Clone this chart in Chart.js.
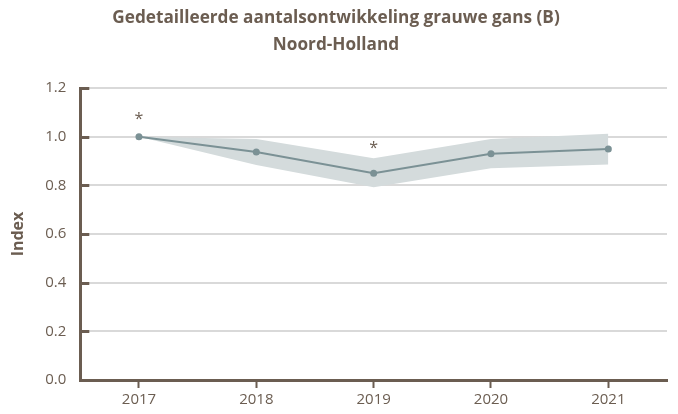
<!DOCTYPE html>
<html>
<head>
  <meta charset="utf-8" />
  <script src="https://cdn.jsdelivr.net/npm/chart.js@4.4.0/dist/chart.umd.min.js"></script>
  <style>
    body { margin:0; background:#fff; }
    #wrap { width:678px; height:414px; }
  </style>
</head>
<body>
<div id="wrap"><canvas id="c"></canvas></div>
<script>
const years = ['2017', '2018', '2019', '2020', '2021'];
const indexVals = [1.0, 0.937, 0.850, 0.930, 0.949];
const upperVals = [1.0, 0.99, 0.911, 0.99, 1.012];
const lowerVals = [1.0, 0.884, 0.792, 0.870, 0.886];
const starVals = [1.085, null, 0.962, null, null];
const yTicks = [0, 0.2, 0.4, 0.6, 0.8, 1.0, 1.2];

const brown = '#6b5d51';
const txt = '#6b5d51';
const lineCol = '#7b9195';
const bandCol = '#d4dbdc';

// small inward ticks on y axis + asterisks
const extras = {
  id: 'extras',
  afterDatasetsDraw(chart) {
    const ctx = chart.ctx, ys = chart.scales.y, xs = chart.scales.x, a = chart.chartArea;
    ctx.save();
    ctx.strokeStyle = brown;
    ctx.lineWidth = 3;
    yTicks.forEach(v => {
      const py = Math.round(ys.getPixelForValue(v)) + 0.5;
      ctx.beginPath();
      ctx.moveTo(a.left, py);
      ctx.lineTo(a.left + 9, py);
      ctx.stroke();
    });
    ctx.fillStyle = txt;
    ctx.font = '16px "Open Sans"';
    ctx.textAlign = 'center';
    ctx.textBaseline = 'middle';
    starVals.forEach((v, i) => {
      if (v == null) return;
      ctx.fillText('*', xs.getPixelForValue(i), ys.getPixelForValue(v) + 3);
    });
    ctx.restore();
  }
};

new Chart(document.getElementById('c'), {
  type: 'line',
  data: {
    labels: years,
    datasets: [
      { label: 'lower', data: lowerVals, borderWidth: 0, pointRadius: 0, fill: false, backgroundColor: bandCol, order: 2 },
      { label: 'upper', data: upperVals, borderWidth: 0, pointRadius: 0, fill: '-1', backgroundColor: bandCol, order: 1 },
      { label: 'index', data: indexVals, borderColor: lineCol, borderWidth: 2, pointRadius: 3.5,
        pointBackgroundColor: lineCol, pointBorderWidth: 0, fill: false, tension: 0, order: 0 }
    ]
  },
  options: {
    responsive: true,
    maintainAspectRatio: false,
    animation: false,
    layout: { padding: { top: 5, left: 5, right: 11, bottom: 2 } },
    plugins: {
      legend: { display: false },
      tooltip: { enabled: false },
      title: {
        display: true,
        text: ['Gedetailleerde aantalsontwikkeling grauwe gans (B)', 'Noord-Holland'],
        color: txt,
        font: { family: '"Open Sans"', size: 17.2, weight: 'bold', lineHeight: 1.57 },
        padding: { top: 0, bottom: 29 }
      },
      filler: { propagate: false }
    },
    scales: {
      x: {
        offset: true,
        border: { color: brown, width: 3 },
        grid: { display: true, drawOnChartArea: false, tickLength: 8, tickColor: brown, tickWidth: 2 },
        ticks: { color: txt, font: { family: '"Open Sans"', size: 15 }, padding: 3 }
      },
      y: {
        min: 0, max: 1.2,
        border: { color: brown, width: 3 },
        grid: { color: '#d9d9d9', lineWidth: 2, drawTicks: false },
        afterBuildTicks: s => { s.ticks = yTicks.map(v => ({ value: v })); },
        ticks: { color: txt, font: { family: '"Open Sans"', size: 15 }, padding: 14,
          callback: v => v.toFixed(1) },
        title: { display: true, text: 'Index', color: txt,
          font: { family: '"Open Sans"', size: 16, weight: 'bold' }, padding: { top: 4, bottom: 3 } }
      }
    }
  },
  plugins: [extras]
});
</script>
</body>
</html>
